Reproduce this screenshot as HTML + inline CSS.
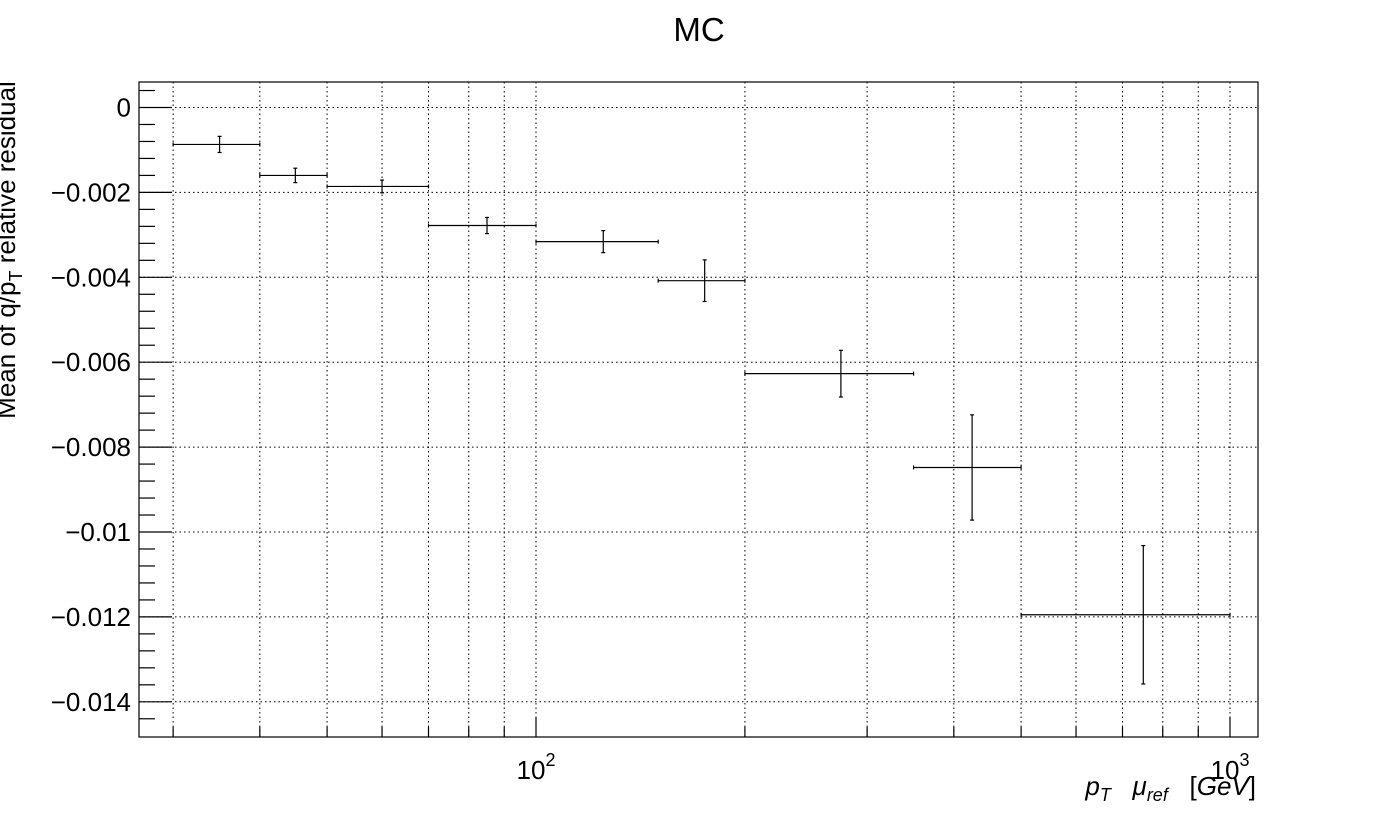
<!DOCTYPE html>
<html><head><meta charset="utf-8"><style>
body{margin:0;background:#fff;}
svg{display:block;font-family:"Liberation Sans",Arial,sans-serif;}
</style></head><body>
<svg id="c" width="1398" height="821">
<text x="699" y="41" font-size="33" text-anchor="middle">MC</text>
<g id="grid"></g>
<rect x="139" y="82" width="1119" height="655" fill="none" stroke="#000" stroke-width="1.2"/>
<g id="axes"></g>
<g id="marks"></g>
<text transform="translate(15,250) rotate(-90)" font-size="26" text-anchor="middle">Mean of q/p<tspan font-size="18" dy="7">T</tspan><tspan dy="-7"> relative residual</tspan></text>
<text x="1256" y="795" font-size="26" text-anchor="end" font-style="italic" xml:space="preserve">p<tspan font-size="18" dy="6">T</tspan><tspan dy="-6">   μ</tspan><tspan font-size="18" dy="6">ref</tspan><tspan dy="-6" font-style="normal">   [</tspan>GeV<tspan font-style="normal">]</tspan></text>
</svg>
<script>
const binLow=[30,40,50,70,100,150,200,350,500];
const binHigh=[40,50,70,100,150,200,350,500,1000];
const centers=[35,45,60,85,125,175,275,425,750];
const means=[-0.00087,-0.0016,-0.00186,-0.00278,-0.00316,-0.00408,-0.00627,-0.00848,-0.01195];
const errs=[0.00019,0.00017,0.00015,0.00019,0.00026,0.00049,0.00055,0.00124,0.00163];
const yTicks=[0,-0.002,-0.004,-0.006,-0.008,-0.01,-0.012,-0.014];
const yTickLabels=["0","−0.002","−0.004","−0.006","−0.008","−0.01","−0.012","−0.014"];
const xGridVals=[30,40,50,60,70,80,90,100,200,300,400,500,600,700,800,900,1000];
const xMajor=[100,1000];
const L=139,R=1258,T=82,B=737;
const X=v=>536+(Math.log10(v)-2)*694;
const Y=v=>107.5-v*42.45/0.001;
const NS="http://www.w3.org/2000/svg";
function mk(p,tag,at){const e=document.createElementNS(NS,tag);for(const k in at)e.setAttribute(k,at[k]);p.appendChild(e);return e;}
const grid=document.getElementById('grid'),axes=document.getElementById('axes'),marks=document.getElementById('marks');
xGridVals.forEach(v=>{
 const l=mk(grid,'line',{x1:X(v),x2:X(v),y1:T,y2:B,stroke:'#000','stroke-width':1,'stroke-dasharray':'1.5,3'});
 
 const big=xMajor.includes(v);
 const t=mk(axes,'line',{x1:X(v),x2:X(v),y1:B,y2:B-(big?20:10),stroke:'#000','stroke-width':1.2});
 
});
xMajor.forEach(v=>{
 const tx=mk(axes,'text',{x:X(v),y:779,'font-size':26,'text-anchor':'middle'});
 
 tx.textContent='10';const s=mk(tx,'tspan',{dy:-13,'font-size':18});s.textContent=Math.log10(v);
});
yTicks.forEach((v,i)=>{
 const l=mk(grid,'line',{x1:L,x2:R,y1:Y(v),y2:Y(v),stroke:'#000','stroke-width':1,'stroke-dasharray':'1.5,3'});
 
 const t=mk(axes,'line',{x1:L,x2:L+33,y1:Y(v),y2:Y(v),stroke:'#000','stroke-width':1.2});
 
 const tx=mk(axes,'text',{x:131,y:Y(v)+9,'font-size':26,'text-anchor':'end'});
 
 tx.textContent=yTickLabels[i];
});
for(let v=0.0004;v>-0.0149;v-=0.0004){
 if(Math.abs(Math.round(v/0.002)*0.002-v)<1e-6)continue;
 const y=Y(v);if(y<T||y>B-3)continue;
 const t=mk(axes,'line',{x1:L,x2:L+16,y1:y,y2:y,stroke:'#000','stroke-width':1.2});
 
}
means.forEach((m,i)=>{
 const g=mk(marks,'g',{stroke:'#000','stroke-width':1.2});
 
 const cx=X(centers[i]),cy=Y(m),y1=Y(m+errs[i]),y2=Y(m-errs[i]);
 mk(g,'line',{x1:X(binLow[i]),x2:X(binHigh[i]),y1:cy,y2:cy});
 mk(g,'line',{x1:X(binLow[i]),x2:X(binLow[i]),y1:cy-2,y2:cy+2});
 mk(g,'line',{x1:X(binHigh[i]),x2:X(binHigh[i]),y1:cy-2,y2:cy+2});
 mk(g,'line',{x1:cx,x2:cx,y1:y1,y2:y2});
 mk(g,'line',{x1:cx-2,x2:cx+2,y1:y1,y2:y1});
 mk(g,'line',{x1:cx-2,x2:cx+2,y1:y2,y2:y2});
});
</script>
</body></html>
